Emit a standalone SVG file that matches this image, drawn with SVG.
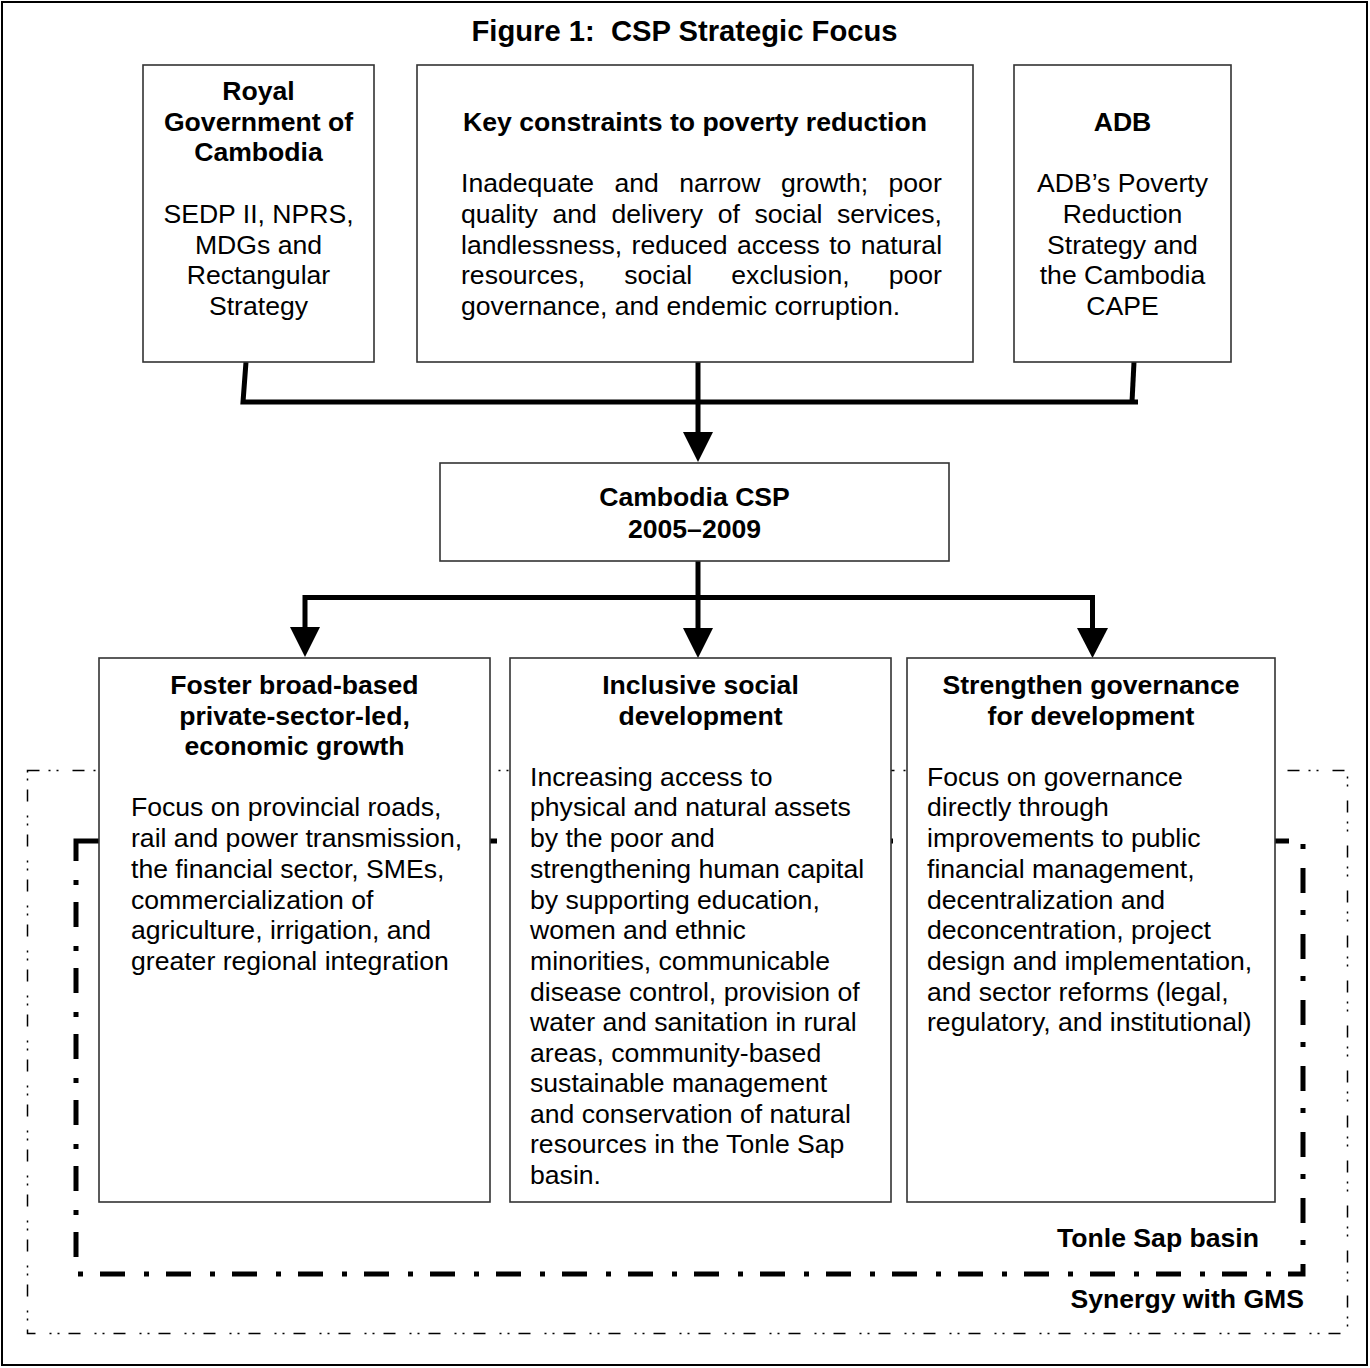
<svg xmlns="http://www.w3.org/2000/svg" width="1370" height="1368" viewBox="0 0 1370 1368">
<style>
text{font-family:"Liberation Sans",Arial,sans-serif;font-size:26.6px;fill:#000}
.b{font-weight:bold}
.c{text-anchor:middle}
.e{text-anchor:end}
.box{fill:#fff;stroke:#333;stroke-width:1.6}
.con{fill:none;stroke:#000;stroke-width:5}
.head{fill:#000;stroke:none}
</style>
<rect x="2" y="2" width="1365" height="1363" fill="#fff" stroke="#000" stroke-width="2"/>
<text class="b c" x="684.5" y="41" style="font-size:29.2px;white-space:pre" xml:space="preserve">Figure 1:  CSP Strategic Focus</text>

<g id="region-gms">
<rect x="27.5" y="770.5" width="1320" height="563" fill="none" stroke="#000" stroke-width="1.5" stroke-dasharray="12 9 2 6 2 14"/>
</g>
<g id="region-tonlesap">
<rect x="76" y="841" width="1227" height="433" fill="none" stroke="#000" stroke-width="5" stroke-dasharray="25 17 5 19"/>
</g>

<g id="connectors">
<polyline class="con" points="246,362 243,402 1138,402"/>
<polyline class="con" points="1134,362 1132,402"/>
<line class="con" x1="698" y1="362" x2="698" y2="434"/>
<polygon class="head" points="683,432 713,432 698,462"/>
<polyline class="con" points="698,561 698,630"/>
<polygon class="head" points="683,628 713,628 698,658"/>
<polyline class="con" points="305,627 305,597.5 1092.5,597.5 1092.5,630"/>
<polygon class="head" points="290,627 320,627 305,657"/>
<polygon class="head" points="1077,628 1108,628 1092.5,658"/>
</g>

<g id="node-rgc">
<rect class="box" x="143" y="65" width="231" height="297"/>
<text class="b c" x="258.5" y="99.5">Royal</text>
<text class="b c" x="258.5" y="130.5">Government of</text>
<text class="b c" x="258.5" y="160.5">Cambodia</text>
<text class="c" x="258.5" y="222.5">SEDP II, NPRS,</text>
<text class="c" x="258.5" y="253.5">MDGs and</text>
<text class="c" x="258.5" y="283.5">Rectangular</text>
<text class="c" x="258.5" y="314.5">Strategy</text>
</g>

<g id="node-constraints">
<rect class="box" x="417" y="65" width="556" height="297"/>
<text class="b c" x="695" y="130.5">Key constraints to poverty reduction</text>
<text x="461" y="191.5" word-spacing="13">Inadequate and narrow growth; poor</text>
<text x="461" y="222.5" word-spacing="7.2">quality and delivery of social services,</text>
<text x="461" y="253.5" word-spacing="2">landlessness, reduced access to natural</text>
<text x="461" y="283.5" word-spacing="31.7">resources, social exclusion, poor</text>
<text x="461" y="314.5">governance, and endemic corruption.</text>
</g>

<g id="node-adb">
<rect class="box" x="1014" y="65" width="217" height="297"/>
<text class="b c" x="1122.5" y="130.5">ADB</text>
<text class="c" x="1122.5" y="191.5">ADB’s Poverty</text>
<text class="c" x="1122.5" y="222.5">Reduction</text>
<text class="c" x="1122.5" y="253.5">Strategy and</text>
<text class="c" x="1122.5" y="283.5">the Cambodia</text>
<text class="c" x="1122.5" y="314.5">CAPE</text>
</g>

<g id="node-csp">
<rect class="box" x="440" y="463" width="509" height="98"/>
<text class="b c" x="694.5" y="505.5">Cambodia CSP</text>
<text class="b c" x="694.5" y="537.5">2005–2009</text>
</g>

<g id="node-growth">
<rect class="box" x="99" y="658" width="391" height="544"/>
<text class="b c" x="294.5" y="693.5">Foster broad-based</text>
<text class="b c" x="294.5" y="724.5">private-sector-led,</text>
<text class="b c" x="294.5" y="754.5">economic growth</text>
<text x="131" y="815.5">Focus on provincial roads,</text>
<text x="131" y="846.5">rail and power transmission,</text>
<text x="131" y="877.5">the financial sector, SMEs,</text>
<text x="131" y="908.5">commercialization of</text>
<text x="131" y="938.5">agriculture, irrigation, and</text>
<text x="131" y="969.5">greater regional integration</text>
</g>

<g id="node-social">
<rect class="box" x="510" y="658" width="381" height="544"/>
<text class="b c" x="700.5" y="693.5">Inclusive social</text>
<text class="b c" x="700.5" y="724.5">development</text>
<text x="530" y="785.5">Increasing access to</text>
<text x="530" y="815.5">physical and natural assets</text>
<text x="530" y="846.5">by the poor and</text>
<text x="530" y="877.5">strengthening human capital</text>
<text x="530" y="908.5">by supporting education,</text>
<text x="530" y="938.5">women and ethnic</text>
<text x="530" y="969.5">minorities, communicable</text>
<text x="530" y="1000.5">disease control, provision of</text>
<text x="530" y="1030.5">water and sanitation in rural</text>
<text x="530" y="1061.5">areas, community-based</text>
<text x="530" y="1091.5">sustainable management</text>
<text x="530" y="1122.5">and conservation of natural</text>
<text x="530" y="1152.5">resources in the Tonle Sap</text>
<text x="530" y="1183.5">basin.</text>
</g>

<g id="node-governance">
<rect class="box" x="907" y="658" width="368" height="544"/>
<text class="b c" x="1091" y="693.5">Strengthen governance</text>
<text class="b c" x="1091" y="724.5">for development</text>
<text x="927" y="785.5">Focus on governance</text>
<text x="927" y="815.5">directly through</text>
<text x="927" y="846.5">improvements to public</text>
<text x="927" y="877.5">financial management,</text>
<text x="927" y="908.5">decentralization and</text>
<text x="927" y="938.5">deconcentration, project</text>
<text x="927" y="969.5">design and implementation,</text>
<text x="927" y="1000.5">and sector reforms (legal,</text>
<text x="927" y="1030.5">regulatory, and institutional)</text>
</g>

<g id="labels">
<text class="b e" x="1259" y="1246.5">Tonle Sap basin</text>
<text class="b e" x="1304" y="1307.5">Synergy with GMS</text>
</g>
</svg>
